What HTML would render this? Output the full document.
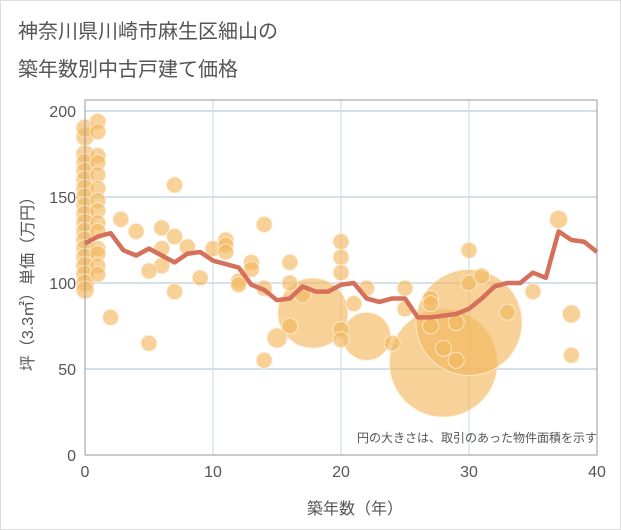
<!DOCTYPE html>
<html><head><meta charset="utf-8"><style>
body{margin:0;background:#fff;}
svg{display:block;font-family:"Liberation Sans","Noto Sans CJK JP",sans-serif;}
</style></head><body>
<svg id="chart" width="621" height="530">
<rect x="0.5" y="0.5" width="620" height="529" fill="#fff" stroke="#ddd"/>
<text x="18" y="38" font-size="20" fill="#555">神奈川県川崎市麻生区細山の</text>
<text x="18" y="76" font-size="20" fill="#555">築年数別中古戸建て価格</text>
<g id="grid"></g>
<g id="bubbles"></g>
<g id="line"></g>
<rect x="85" y="100" width="512" height="355" fill="none" stroke="#999"/>
<g id="ticks"></g>
<text x="597" y="442" font-size="12" fill="#555" text-anchor="end">円の大きさは、取引のあった物件面積を示す</text>
<text x="355" y="514" font-size="16" fill="#555" text-anchor="middle">築年数（年）</text>
<text transform="translate(33,280) rotate(-90)" font-size="16" fill="#555" text-anchor="middle">坪（3.3㎡）単価（万円）</text>
</svg>
<script>
const xTicks=[0,10,20,30,40];
const yTicks=[0,50,100,150,200];
const lineYears=[0,1,2,3,4,5,6,7,8,9,10,11,12,13,14,15,16,17,18,19,20,21,22,23,24,25,26,27,28,29,30,31,32,33,34,35,36,37,38,39,40];
const lineValues=[123,127,129,119,116,120,116,112,117,118,113,111,109,99,96,90,91,98,95,95,99,100,91,89,91,91,80,80,81,82,85,91,98,100,100,106,103,130,125,124,118];
const bubbleX=[0,0,0,0,0,0,0,0,0,0,0,0,0,0,0,0,0,0,0,1,1,1,1,1,1,1,1,1,1,1,1,1,1,7,2.8,4,6,6,6,7,7,5,5,2,8,9,10,11,11,11,12,12,13,13,14,14,14,15,16,16,16,17,20,20,20,20,20,21,22,25,25,27,27,27,28,29,29,30,30,31,33,35,37,38,38,28,30,17.8,22,24];
const bubbleY=[185,190,175,170,165,160,155,150,145,140,135,130,125,120,115,110,105,100,96,194,188,174,170,163,155,148,142,135,130,120,117,110,105,157,137,130,132,120,110,127,95,107,65,80,121,103,120,125,122,118,101,99,112,108,134,55,97,68,112,100,75,93,124,115,106,73,67,88,97,97,85,91,88,75,62,77,55,119,100,104,83,95,137,82,58,53.5,77,82.5,69,65];
const bubbleR=[9,9,9,9,9,9,9,9,9,9,9,9,9,9,9,9,9,9,9,8,8,8,8,8,8,8,8,8,8,8,8,8,8,8,8,8,8,8,8,8,8,8,8,8,8,8,8,8,8,8,8,8,8,8,8,8,8,10,8,8,8,8,8,8,8,8,8,8,8,8,8,8,8,8,8,8,8,8,8,8,8,8,9,9,8,54,53,35,24,8];
const NS="http://www.w3.org/2000/svg";
function xs(v){return 85+v*12.8;}
function ys(v){return 455-v*1.72;}
const grid=document.getElementById('grid'),ticks=document.getElementById('ticks');
xTicks.forEach(t=>{
 if(t>0&&t<40){const l=document.createElementNS(NS,'line');
 
 
 l.setAttribute('x1',xs(t));l.setAttribute('x2',xs(t));l.setAttribute('y1',100);l.setAttribute('y2',455);l.setAttribute('stroke','#c5d6e6');grid.appendChild(l);}
 const tx=document.createElementNS(NS,'text');
 
 
 tx.setAttribute('x',xs(t));tx.setAttribute('y',477);tx.setAttribute('font-size','16');tx.setAttribute('fill','#555');tx.setAttribute('text-anchor','middle');tx.textContent=t;ticks.appendChild(tx);
});
yTicks.forEach(t=>{
 if(t>0){const l=document.createElementNS(NS,'line');
 
 
 l.setAttribute('x1',85);l.setAttribute('x2',597);l.setAttribute('y1',ys(t));l.setAttribute('y2',ys(t));l.setAttribute('stroke','#d5dfe8');l.setAttribute('stroke-width','2');grid.appendChild(l);}
 const tx=document.createElementNS(NS,'text');
 
 
 tx.setAttribute('x',76);tx.setAttribute('y',ys(t)+6);tx.setAttribute('font-size','16');tx.setAttribute('fill','#555');tx.setAttribute('text-anchor','end');tx.textContent=t;ticks.appendChild(tx);
});
const bg=document.getElementById('bubbles');
const order=bubbleR.map((r,i)=>i).sort((a,b)=>bubbleR[b]-bubbleR[a]);
order.forEach(i=>{
 const c=document.createElementNS(NS,'circle');
 
 
 c.setAttribute('cx',xs(bubbleX[i]));c.setAttribute('cy',ys(bubbleY[i]));c.setAttribute('r',bubbleR[i]);
 c.setAttribute('fill','rgba(242,184,95,0.65)');c.setAttribute('stroke','rgba(255,240,220,0.8)');c.setAttribute('stroke-width','1');
 bg.appendChild(c);
});
const p=document.createElementNS(NS,'polyline');


p.setAttribute('points',lineYears.map((y,i)=>xs(y)+','+ys(lineValues[i])).join(' '));
p.setAttribute('fill','none');p.setAttribute('stroke','#d5705a');p.setAttribute('stroke-width','4.5');p.setAttribute('stroke-linejoin','round');
document.getElementById('line').appendChild(p);
</script>
</body></html>
